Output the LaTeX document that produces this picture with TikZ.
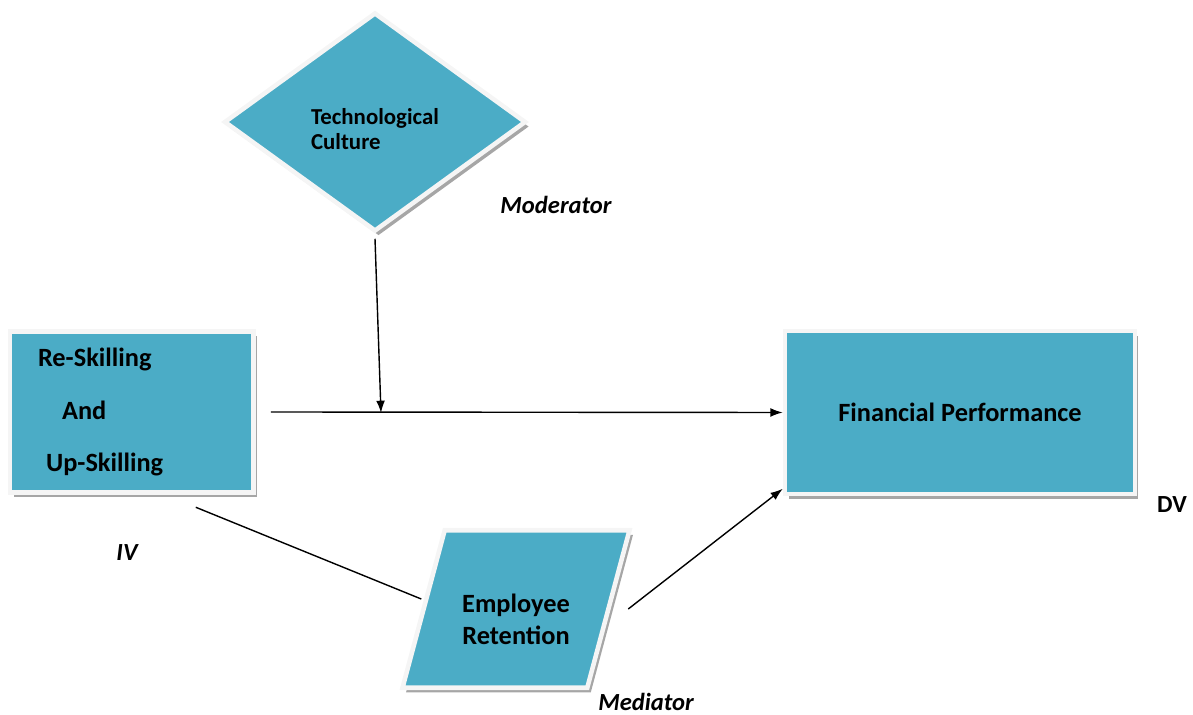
\documentclass[tikz,border=0pt]{standalone}
\usepackage{fontspec}
\setmainfont{Carlito}
\usetikzlibrary{shapes.geometric,arrows.meta,shadows}
\definecolor{boxfill}{HTML}{4BACC6}
\tikzset{
  shaded box/.style={fill=boxfill, draw=gray!8, line width=2.6pt, inner sep=0pt,
    drop shadow={shadow xshift=2pt, shadow yshift=-2.6pt, fill=gray!70, opacity=1}},
  link/.style={line width=0.8pt},
  arrowlink/.style={link, -{Latex[length=7pt,width=5pt]}},
  role/.style={inner sep=1pt, font=\fontsize{14}{16}\selectfont\bfseries\itshape}
}

\begin{document}
\begin{tikzpicture}[x=0.02cm,y=-0.02cm]
\useasboundingbox (0,0) rectangle (1193,715);
\node[shaded box, diamond, minimum width=6.04cm, minimum height=4.38cm, align=left, font=\fontsize{13}{14.5}\selectfont\bfseries] (tc) at (375,122) {\rule{0pt}{17pt}Technological\\Culture};
\node[shaded box, minimum width=4.87cm, minimum height=3.22cm, inner xsep=0.56cm, text width=3.75cm, align=left, font=\fontsize{15}{30}\selectfont\bfseries] (iv) at (131.75,412) {Re-Skilling\\\hspace*{13.7pt}And\\\hspace*{4.6pt}Up-Skilling};
\node[shaded box, minimum width=7cm, minimum height=3.26cm, font=\fontsize{15}{18}\selectfont\bfseries] (fp) at (960,412.5) {Financial Performance};
\node[shaded box, trapezium, trapezium left angle=75, trapezium right angle=105, trapezium stretches body, inner ysep=0.87cm, minimum width=4.54cm, align=center, font=\fontsize{15}{18}\selectfont\bfseries] (er) at (516,609) {\rule{0pt}{22pt}Employee\\Retention};
\node[role] (mod) at (556,205) {Moderator};
\node[role] (ivlab) at (127,553) {IV};
\node[inner sep=1pt, font=\fontsize{14}{16}\selectfont\bfseries] (dvlab) at (1172,505) {DV};
\node[role] (med) at (646,702) {Mediator};
\coordinate (meet) at (381,413);
\draw[arrowlink] ([xshift=.3cm]iv.east) -- (fp.west);
\draw[arrowlink] ([yshift=-.1cm]tc.south) -- (meet);
\draw[link] ([xshift=-1.2cm,yshift=-.25cm]iv.south east) -- ([yshift=.2cm]er.west);
\draw[arrowlink] ([xshift=.35cm]er.east) -- ([yshift=.15cm]fp.south west);
\end{tikzpicture}
\end{document}
